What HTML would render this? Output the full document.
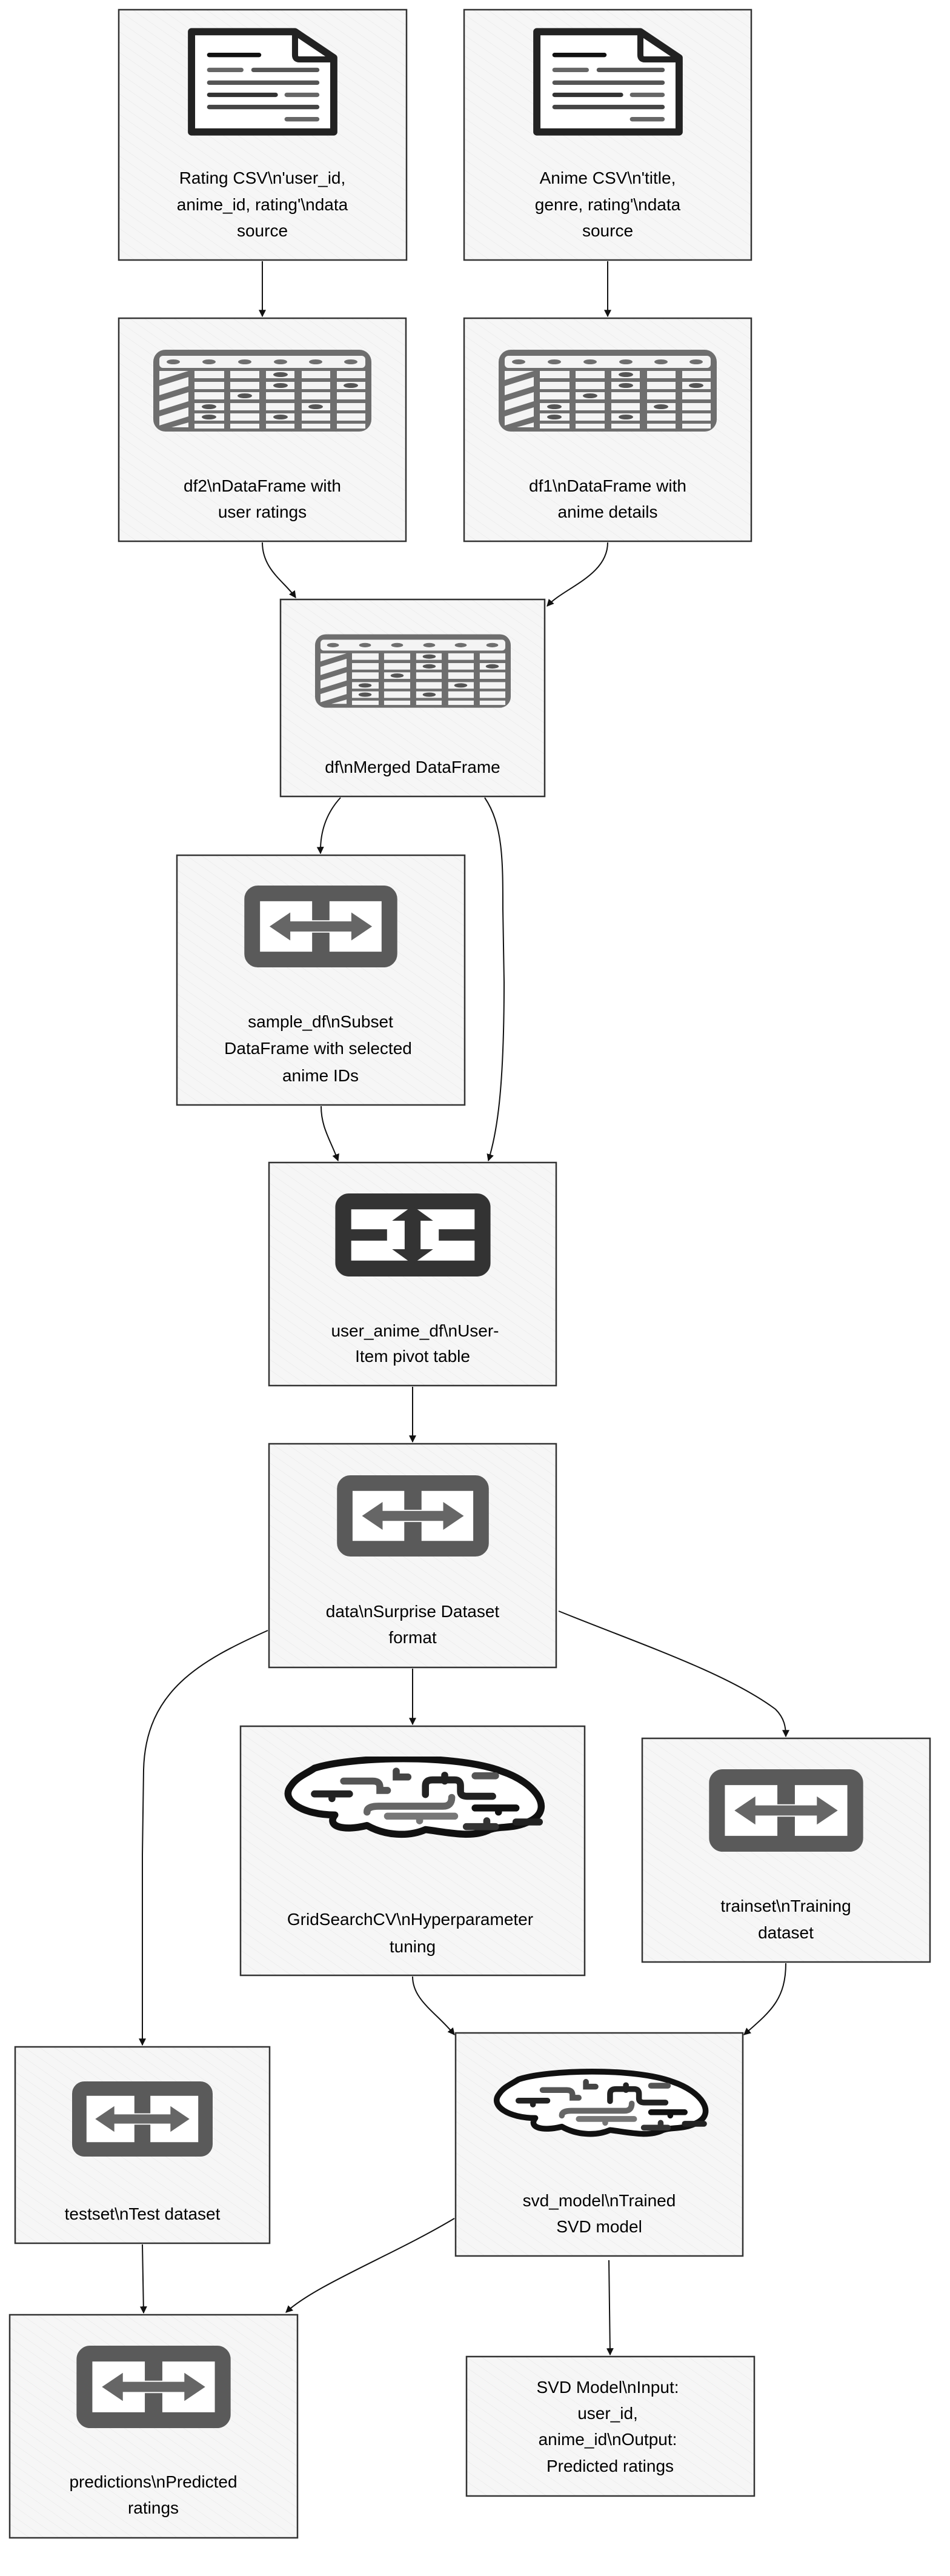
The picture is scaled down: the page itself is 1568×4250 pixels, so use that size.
<!DOCTYPE html>
<html><head><meta charset="utf-8"><style>
html,body{margin:0;padding:0;background:#fff}
svg{display:block}
text{font-family:"Liberation Sans",sans-serif;font-size:28px;fill:#000;text-anchor:middle}
</style></head><body>
<svg width="1568" height="4250" viewBox="0 0 1568 4250" xmlns="http://www.w3.org/2000/svg">
<defs>
<pattern id="hatch" width="14" height="14" patternUnits="userSpaceOnUse" patternTransform="rotate(-55)">
<rect width="14" height="14" fill="#f6f6f6"/><line x1="0" y1="0" x2="0" y2="14" stroke="#e6e6e6" stroke-width="1"/>
</pattern>
<marker id="ah" viewBox="0 0 10 10" refX="9" refY="5" markerWidth="12" markerHeight="12" markerUnits="userSpaceOnUse" orient="auto">
<path d="M0,0 L10,5 L0,10 Z" fill="#111"/></marker>
<symbol id="doc" viewBox="0 0 273 197">
<path d="M8,8 H195 L265,55 V189 H8 Z" fill="#fff" stroke="#222" stroke-width="13" stroke-linejoin="round"/>
<path d="M195,8 V50 Q195,58 203,58 H262" fill="none" stroke="#222" stroke-width="11"/>
<g stroke-linecap="round" stroke-width="8">
<line x1="40" y1="50" x2="130" y2="50" stroke="#111"/>
<line x1="40" y1="77" x2="98" y2="77" stroke="#666"/><line x1="120" y1="77" x2="235" y2="77" stroke="#555"/>
<line x1="40" y1="100" x2="235" y2="100" stroke="#555"/>
<line x1="40" y1="122" x2="160" y2="122" stroke="#333"/><line x1="180" y1="122" x2="235" y2="122" stroke="#666"/>
<line x1="40" y1="144" x2="235" y2="144" stroke="#444"/>
<line x1="180" y1="166" x2="235" y2="166" stroke="#666"/>
</g></symbol>
<symbol id="tbl" viewBox="0 0 360 135">
<rect x="0" y="0" width="360" height="135" rx="20" fill="#6e6e6e"/>
<rect x="10" y="10" width="340" height="20" rx="6" fill="#f4f4f4"/>
<g fill="#6e6e6e"><ellipse cx="33" cy="20" rx="11" ry="4"/><ellipse cx="92" cy="20" rx="11" ry="4"/><ellipse cx="151" cy="20" rx="11" ry="4"/><ellipse cx="210" cy="20" rx="11" ry="4"/><ellipse cx="268" cy="20" rx="11" ry="4"/><ellipse cx="326" cy="20" rx="11" ry="4"/></g>
<g fill="#f4f4f4">
<rect x="68" y="35" width="49" height="12"/><rect x="127" y="35" width="48" height="12"/><rect x="186" y="35" width="47" height="12"/><rect x="245" y="35" width="47" height="12"/><rect x="303" y="35" width="47" height="12"/>
<rect x="68" y="53" width="49" height="12"/><rect x="127" y="53" width="48" height="12"/><rect x="186" y="53" width="47" height="12"/><rect x="245" y="53" width="47" height="12"/><rect x="303" y="53" width="47" height="12"/>
<rect x="68" y="70" width="49" height="12"/><rect x="127" y="70" width="48" height="12"/><rect x="186" y="70" width="47" height="12"/><rect x="245" y="70" width="47" height="12"/><rect x="303" y="70" width="47" height="12"/>
<rect x="68" y="88" width="49" height="12"/><rect x="127" y="88" width="48" height="12"/><rect x="186" y="88" width="47" height="12"/><rect x="245" y="88" width="47" height="12"/><rect x="303" y="88" width="47" height="12"/>
<rect x="68" y="105" width="49" height="12"/><rect x="127" y="105" width="48" height="12"/><rect x="186" y="105" width="47" height="12"/><rect x="245" y="105" width="47" height="12"/><rect x="303" y="105" width="47" height="12"/>
<rect x="68" y="122" width="49" height="8"/><rect x="127" y="122" width="48" height="8"/><rect x="186" y="122" width="47" height="8"/><rect x="245" y="122" width="47" height="8"/><rect x="303" y="122" width="47" height="8"/>
<path d="M10,35 H58 L10,50 Z M10,60 L58,45 V60 L10,75 Z M10,85 L58,70 V85 L10,100 Z M10,110 L58,95 V110 L10,125 Z M58,120 V128 H30 Z"/>
</g>
<g fill="#555"><ellipse cx="210" cy="41" rx="12" ry="4"/><ellipse cx="210" cy="59" rx="12" ry="4"/><ellipse cx="326" cy="59" rx="12" ry="4"/><ellipse cx="151" cy="76" rx="12" ry="4"/><ellipse cx="92" cy="94" rx="12" ry="4"/><ellipse cx="268" cy="94" rx="12" ry="4"/><ellipse cx="92" cy="111" rx="12" ry="4"/><ellipse cx="210" cy="111" rx="12" ry="4"/></g>
</symbol>
<symbol id="swap" viewBox="0 0 273 146">
<rect x="14" y="14" width="245" height="118" rx="10" fill="#fff" stroke="#5a5a5a" stroke-width="28"/>
<rect x="121" y="26" width="31" height="36" fill="#5a5a5a"/><rect x="121" y="84" width="31" height="36" fill="#5a5a5a"/>
<polygon points="45,73 82,48 82,64 191,64 191,48 228,73 191,98 191,82 82,82 82,98" fill="#666"/>
</symbol>
<symbol id="swapv" viewBox="0 0 273 146">
<rect x="14" y="14" width="245" height="118" rx="10" fill="#fff" stroke="#333" stroke-width="28"/>
<rect x="26" y="63" width="65" height="20" fill="#333"/><rect x="182" y="63" width="65" height="20" fill="#333"/>
<polygon points="136,22 172,48 150,48 150,98 172,98 136,124 100,98 122,98 122,48 100,48" fill="#333"/>
</symbol>
<symbol id="brain" viewBox="0 0 455 140">
<path d="M60,20 C120,0 300,-5 380,25 C440,45 470,90 430,110 C400,125 380,118 360,125 C330,140 290,130 250,125 C220,138 180,135 150,118 C110,128 80,120 95,100 C40,100 0,75 20,50 C30,35 45,30 60,20 Z" fill="#fff" stroke="#111" stroke-width="12" stroke-linejoin="round"/>
<g fill="none" stroke-linecap="round" stroke-width="12">
<path d="M60,64 H120 M90,64 V72" stroke="#222"/>
<path d="M110,42 H160 Q172,42 172,52 V58 H185" stroke="#555"/>
<path d="M200,25 V35 H220" stroke="#444"/>
<path d="M250,65 V50 Q250,40 262,40 H300 Q310,40 310,50 V60 Q310,68 322,68 H365" stroke="#222"/>
<path d="M283,32 V42" stroke="#222"/>
<path d="M335,33 H370" stroke="#555"/>
<path d="M150,95 Q150,85 170,85 H280 Q295,85 295,70" stroke="#666"/>
<path d="M185,102 H300 M240,102 V110" stroke="#777"/>
<path d="M335,88 H405 M375,88 V95" stroke="#111"/>
<path d="M320,120 H370 M355,120 V110" stroke="#333"/>
<path d="M405,112 H445" stroke="#222"/>
</g></symbol>
</defs>

<g fill="url(#hatch)" stroke="#333" stroke-width="2.5">
<rect x="196" y="16" width="475" height="413"/>
<rect x="766" y="16" width="474" height="413"/>
<rect x="196" y="525" width="474" height="368"/>
<rect x="766" y="525" width="474" height="368"/>
<rect x="463" y="989" width="436" height="325"/>
<rect x="292" y="1411" width="475" height="412"/>
<rect x="444" y="1918" width="474" height="368"/>
<rect x="444" y="2382" width="474" height="369"/>
<rect x="397" y="2848" width="568" height="411"/>
<rect x="1060" y="2868" width="475" height="369"/>
<rect x="752" y="3354" width="474" height="368"/>
<rect x="25" y="3377" width="420" height="324"/>
<rect x="16" y="3819" width="475" height="368"/>
<rect x="770" y="3888" width="475" height="230"/>
</g>

<use href="#doc" x="297" y="45" width="273" height="180"/>
<use href="#doc" x="867" y="45" width="273" height="180"/>
<use href="#tbl" x="253" y="577" width="360" height="135"/>
<use href="#tbl" x="823" y="577" width="360" height="135"/>
<use href="#tbl" x="520" y="1040" width="323" height="134"/>
<use href="#swap" x="393" y="1461" width="273" height="135"/>
<use href="#swapv" x="545" y="1969" width="273" height="137"/>
<use href="#swap" x="545" y="2434" width="273" height="134"/>
<use href="#brain" x="453" y="2898" width="455" height="135"/>
<use href="#swap" x="1160" y="2919" width="275" height="136"/>
<use href="#brain" x="808" y="3404" width="362" height="133"/>
<use href="#swap" x="119" y="3428" width="232" height="136"/>
<use href="#swap" x="117" y="3870" width="273" height="136"/>

<text x="433" y="303">Rating CSV\n'user_id,</text>
<text x="433" y="347">anime_id, rating'\ndata</text>
<text x="433" y="390">source</text>
<text x="1003" y="303">Anime CSV\n'title,</text>
<text x="1003" y="347">genre, rating'\ndata</text>
<text x="1003" y="390">source</text>
<text x="433" y="811">df2\nDataFrame with</text>
<text x="433" y="854">user ratings</text>
<text x="1003" y="811">df1\nDataFrame with</text>
<text x="1003" y="854">anime details</text>
<text x="681" y="1275">df\nMerged DataFrame</text>
<text x="529" y="1695">sample_df\nSubset</text>
<text x="525" y="1739">DataFrame with selected</text>
<text x="529" y="1784">anime IDs</text>
<text x="685" y="2205">user_anime_df\nUser-</text>
<text x="681" y="2247">Item pivot table</text>
<text x="681" y="2668">data\nSurprise Dataset</text>
<text x="681" y="2711">format</text>
<text x="677" y="3176">GridSearchCV\nHyperparameter</text>
<text x="681" y="3221">tuning</text>
<text x="1297" y="3154">trainset\nTraining</text>
<text x="1297" y="3198">dataset</text>
<text x="989" y="3640">svd_model\nTrained</text>
<text x="989" y="3683">SVD model</text>
<text x="235" y="3662">testset\nTest dataset</text>
<text x="253" y="4104">predictions\nPredicted</text>
<text x="253" y="4147">ratings</text>
<text x="1003" y="3948">SVD Model\nInput:</text>
<text x="1003" y="3991">user_id,</text>
<text x="1003" y="4034">anime_id\nOutput:</text>
<text x="1007" y="4078">Predicted ratings</text>

<g fill="none" stroke="#111" stroke-width="2" marker-end="url(#ah)">
<path d="M433,431 L433,522"/>
<path d="M1003,431 L1003,522"/>
<path d="M433,895 C433,940 470,960 488,986"/>
<path d="M1003,895 C1003,950 930,970 903,1000"/>
<path d="M562,1316 C540,1340 528,1370 529,1408"/>
<path d="M800,1316 C830,1360 830,1420 830,1500 L832,1620 C832,1800 820,1870 806,1915"/>
<path d="M530,1825 C530,1860 545,1880 558,1915"/>
<path d="M681,2288 L681,2379"/>
<path d="M681,2753 L681,2845"/>
<path d="M442,2690 C330,2740 240,2790 237,2920 L235,3060 L235,3374"/>
<path d="M922,2658 C1050,2710 1200,2760 1280,2820 C1295,2835 1297,2850 1297,2865"/>
<path d="M681,3261 C681,3300 720,3320 750,3357"/>
<path d="M1297,3239 C1297,3300 1270,3320 1228,3357"/>
<path d="M235,3703 L237,3816"/>
<path d="M750,3660 C650,3720 520,3770 472,3815"/>
<path d="M1005,3729 L1007,3885"/>
</g>
</svg>
</body></html>
